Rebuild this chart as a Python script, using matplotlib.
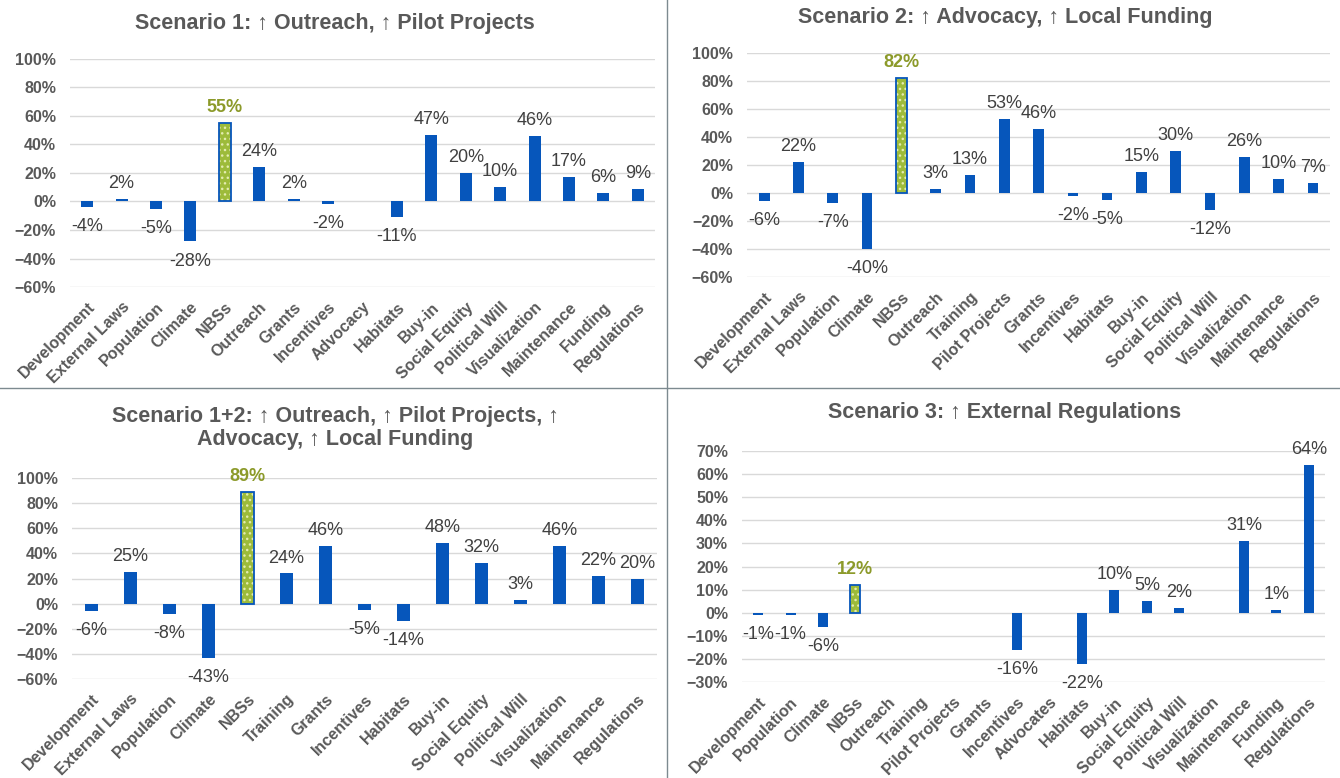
import numpy as np
import matplotlib
matplotlib.use('Agg')
import matplotlib.pyplot as plt
from matplotlib.lines import Line2D
from matplotlib.ticker import PercentFormatter

plt.rcParams['font.family'] = ['Liberation Sans', 'DejaVu Sans']

# Scenario 1
s1_cats = ['Development', 'External Laws', 'Population', 'Climate', 'NBSs', 'Outreach',
           'Grants', 'Incentives', 'Advocacy', 'Habitats', 'Buy-in', 'Social Equity',
           'Political Will', 'Visualization', 'Maintenance', 'Funding', 'Regulations']
s1_vals = [-4, 2, -5, -28, 55, 24, 2, -2, np.nan, -11, 47, 20, 10, 46, 17, 6, 9]

# Scenario 2
s2_cats = ['Development', 'External Laws', 'Population', 'Climate', 'NBSs', 'Outreach',
           'Training', 'Pilot Projects', 'Grants', 'Incentives', 'Habitats', 'Buy-in',
           'Social Equity', 'Political Will', 'Visualization', 'Maintenance', 'Regulations']
s2_vals = [-6, 22, -7, -40, 82, 3, 13, 53, 46, -2, -5, 15, 30, -12, 26, 10, 7]

# Scenario 1+2
s12_cats = ['Development', 'External Laws', 'Population', 'Climate', 'NBSs', 'Training',
            'Grants', 'Incentives', 'Habitats', 'Buy-in', 'Social Equity', 'Political Will',
            'Visualization', 'Maintenance', 'Regulations']
s12_vals = [-6, 25, -8, -43, 89, 24, 46, -5, -14, 48, 32, 3, 46, 22, 20]

# Scenario 3
s3_cats = ['Development', 'Population', 'Climate', 'NBSs', 'Outreach', 'Training',
           'Pilot Projects', 'Grants', 'Incentives', 'Advocates', 'Habitats', 'Buy-in',
           'Social Equity', 'Political Will', 'Visualization', 'Maintenance', 'Funding',
           'Regulations']
s3_vals = [-1, -1, -6, 12, np.nan, np.nan, np.nan, np.nan, -16, np.nan, -22, 10, 5, 2,
           np.nan, 31, 1, 64]

BLUE = '#0656bb'
GREEN = '#9dbb3a'
DOTS = '#e4ecb0'
OLIVE = '#8c9a2a'
GRAY = '#595959'
LABEL = '#404040'


def draw(ax, cats, vals, ylim, step, width):
    x = np.arange(len(cats))
    v = np.array(vals, dtype=float)
    colors = [GREEN if c == 'NBSs' else BLUE for c in cats]
    bars = ax.bar(x, v, width=width, color=colors, zorder=3)
    for i, c in enumerate(cats):
        if c == 'NBSs':
            bars[i].set_hatch('...')
            bars[i].set_edgecolor(DOTS)
            bars[i].set_linewidth(0)
            ax.bar(x[i], v[i], width=width, facecolor='none', edgecolor=BLUE,
                   linewidth=1.3, zorder=4)
    for i, val in enumerate(v):
        if np.isnan(val):
            continue
        nbs = cats[i] == 'NBSs'
        off = 5 if val >= 0 else -8
        ax.annotate(f'{val:.0f}%', (x[i], val), xytext=(0, off), textcoords='offset points',
                    ha='center', va='bottom' if val >= 0 else 'top',
                    fontsize=13, color=OLIVE if nbs else LABEL,
                    fontweight='bold' if nbs else 'normal', zorder=5)
    ax.set_xlim(-0.5, len(cats) - 0.5)
    ax.set_ylim(*ylim)
    ax.set_yticks(np.arange(ylim[0], ylim[1] + 1, step))
    ax.yaxis.set_major_formatter(PercentFormatter(decimals=0))
    ax.set_xticks(x)
    ax.set_xticklabels(cats, rotation=45, ha='right', rotation_mode='anchor',
                       fontsize=11.5, fontweight='bold', color=GRAY)
    ax.tick_params(axis='x', length=0, pad=9)
    ax.tick_params(axis='y', length=0, pad=10, labelsize=11.5, labelcolor=GRAY)
    for lab in ax.get_yticklabels():
        lab.set_fontweight('bold')
    ax.grid(axis='y', color='#d9d9d9', linewidth=1, zorder=0)
    for s in ax.spines.values():
        s.set_visible(False)


fig = plt.figure(figsize=(13.4, 7.78), dpi=100)

ax1 = fig.add_axes([0.0522, 0.6311, 0.4366, 0.2931])
draw(ax1, s1_cats, s1_vals, (-60, 100), 20, 0.35)
ax2 = fig.add_axes([0.5575, 0.6440, 0.4351, 0.2879])
draw(ax2, s2_cats, s2_vals, (-60, 100), 20, 0.31)
ax3 = fig.add_axes([0.0537, 0.1272, 0.4366, 0.2584])
draw(ax3, s12_cats, s12_vals, (-60, 100), 20, 0.32)
ax4 = fig.add_axes([0.5537, 0.1234, 0.4351, 0.2969])
draw(ax4, s3_cats, s3_vals, (-30, 70), 10, 0.31)

tkw = dict(ha='center', va='center', fontsize=15.5, fontweight='bold', color=GRAY)
fig.text(0.25, 0.9704, 'Scenario 1: ↑ Outreach, ↑ Pilot Projects', **tkw)
fig.text(0.75, 0.978, 'Scenario 2: ↑ Advocacy, ↑ Local Funding', **tkw)
fig.text(0.25, 0.4499, 'Scenario 1+2: ↑ Outreach, ↑ Pilot Projects, ↑\nAdvocacy, ↑ Local Funding',
         linespacing=1.1, **tkw)
fig.text(0.75, 0.4692, 'Scenario 3: ↑ External Regulations', **tkw)

# panel separators
fig.add_artist(Line2D([0, 1], [1 - 388 / 778] * 2, color='#7d8a90', lw=1))
fig.add_artist(Line2D([667 / 1340] * 2, [0, 1], color='#7d8a90', lw=1))

fig.savefig('out.png', dpi=100)
